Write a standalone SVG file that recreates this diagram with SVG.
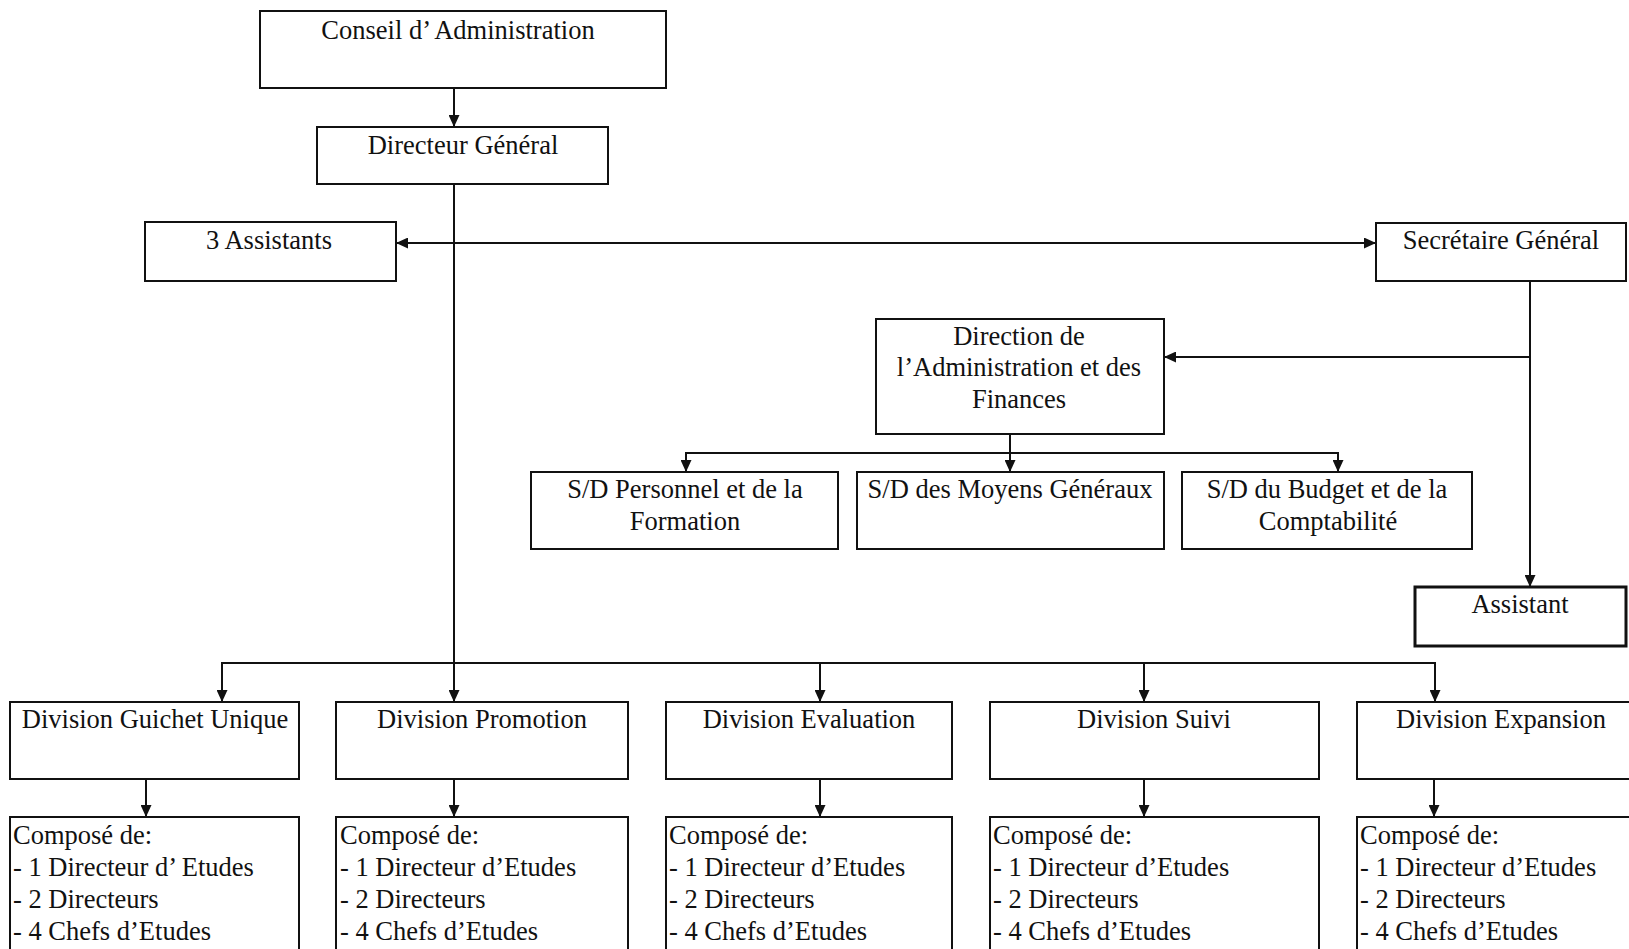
<svg xmlns="http://www.w3.org/2000/svg" width="1629" height="949" viewBox="0 0 1629 949">
<style>
.box{fill:#fff;stroke:#111;stroke-width:2}
.thick{stroke-width:3}
.t{font-family:"Liberation Serif","Times New Roman",serif;font-size:26.5px;fill:#111}
.c{text-anchor:middle}
.ln{fill:none;stroke:#111;stroke-width:2}
</style>
<defs>
<marker id="ah" markerUnits="userSpaceOnUse" markerWidth="12" markerHeight="11" viewBox="0 0 12 11" refX="12" refY="5.5" orient="auto-start-reverse">
<path d="M0,0 L12,5.5 L0,11 z" fill="#111"/>
</marker>
</defs>
<rect width="1629" height="949" fill="#fff"/>

<g id="connectors">
<line class="ln" x1="454" y1="88" x2="454" y2="127" marker-end="url(#ah)"/>
<line class="ln" x1="454" y1="184" x2="454" y2="702" marker-end="url(#ah)"/>
<line class="ln" x1="396" y1="243" x2="1376" y2="243" marker-start="url(#ah)" marker-end="url(#ah)"/>
<line class="ln" x1="1530" y1="281" x2="1530" y2="587" marker-end="url(#ah)"/>
<line class="ln" x1="1530" y1="357" x2="1164" y2="357" marker-end="url(#ah)"/>
<line class="ln" x1="1010" y1="434" x2="1010" y2="472" marker-end="url(#ah)"/>
<polyline class="ln" points="686,472 686,453 1338,453 1338,472" />
<line class="ln" x1="686" y1="460" x2="686" y2="472" marker-end="url(#ah)"/>
<line class="ln" x1="1338" y1="460" x2="1338" y2="472" marker-end="url(#ah)"/>
<polyline class="ln" points="222,690 222,663 1435,663 1435,690"/>
<line class="ln" x1="222" y1="670" x2="222" y2="702" marker-end="url(#ah)"/>
<line class="ln" x1="820" y1="663" x2="820" y2="702" marker-end="url(#ah)"/>
<line class="ln" x1="1144" y1="663" x2="1144" y2="702" marker-end="url(#ah)"/>
<line class="ln" x1="1435" y1="670" x2="1435" y2="702" marker-end="url(#ah)"/>
<line class="ln" x1="146" y1="779" x2="146" y2="817" marker-end="url(#ah)"/>
<line class="ln" x1="454" y1="779" x2="454" y2="817" marker-end="url(#ah)"/>
<line class="ln" x1="820" y1="779" x2="820" y2="817" marker-end="url(#ah)"/>
<line class="ln" x1="1144" y1="779" x2="1144" y2="817" marker-end="url(#ah)"/>
<line class="ln" x1="1434" y1="779" x2="1434" y2="817" marker-end="url(#ah)"/>
</g>

<g id="conseil"><rect class="box" x="260" y="11" width="406" height="77"/><text class="t c" x="458" y="39">Conseil d’ Administration</text></g>
<g id="dg"><rect class="box" x="317" y="127" width="291" height="57"/><text class="t c" x="463" y="154">Directeur Général</text></g>
<g id="assistants3"><rect class="box" x="145" y="222" width="251" height="59"/><text class="t c" x="269" y="249">3 Assistants</text></g>
<g id="sg"><rect class="box" x="1376" y="223" width="250" height="58"/><text class="t c" x="1501" y="249">Secrétaire Général</text></g>
<g id="daf"><rect class="box" x="876" y="319" width="288" height="115"/>
<text class="t c" x="1019" y="345">Direction de</text>
<text class="t c" x="1019" y="376">l’Administration et des</text>
<text class="t c" x="1019" y="408">Finances</text></g>
<g id="sd-personnel"><rect class="box" x="531" y="472" width="307" height="77"/>
<text class="t c" x="685" y="498">S/D Personnel et de la</text>
<text class="t c" x="685" y="530">Formation</text></g>
<g id="sd-moyens"><rect class="box" x="857" y="472" width="307" height="77"/>
<text class="t c" x="1010" y="498">S/D des Moyens Généraux</text></g>
<g id="sd-budget"><rect class="box" x="1182" y="472" width="290" height="77"/>
<text class="t c" x="1327" y="498">S/D du Budget et de la</text>
<text class="t c" x="1328" y="530">Comptabilité</text></g>
<g id="assistant"><rect class="box thick" x="1415" y="587" width="211" height="59"/><text class="t c" x="1520" y="613">Assistant</text></g>

<g id="div-guichet"><rect class="box" x="10" y="702" width="289" height="77"/><text class="t c" x="155" y="728">Division Guichet Unique</text></g>
<g id="div-promotion"><rect class="box" x="336" y="702" width="292" height="77"/><text class="t c" x="482" y="728">Division Promotion</text></g>
<g id="div-evaluation"><rect class="box" x="666" y="702" width="286" height="77"/><text class="t c" x="809" y="728">Division Evaluation</text></g>
<g id="div-suivi"><rect class="box" x="990" y="702" width="329" height="77"/><text class="t c" x="1154" y="728">Division Suivi</text></g>
<g id="div-expansion"><rect class="box" x="1357" y="702" width="290" height="77"/><text class="t c" x="1501" y="728">Division Expansion</text></g>

<g id="comp-guichet"><rect class="box" x="10" y="817" width="289" height="150"/>
<text class="t" x="13" y="844">Composé de:</text><text class="t" x="13" y="876">- 1 Directeur d’ Etudes</text><text class="t" x="13" y="908">- 2 Directeurs</text><text class="t" x="13" y="940">- 4 Chefs d’Etudes</text></g>
<g id="comp-promotion"><rect class="box" x="336" y="817" width="292" height="150"/>
<text class="t" x="340" y="844">Composé de:</text><text class="t" x="340" y="876">- 1 Directeur d’Etudes</text><text class="t" x="340" y="908">- 2 Directeurs</text><text class="t" x="340" y="940">- 4 Chefs d’Etudes</text></g>
<g id="comp-evaluation"><rect class="box" x="666" y="817" width="286" height="150"/>
<text class="t" x="669" y="844">Composé de:</text><text class="t" x="669" y="876">- 1 Directeur d’Etudes</text><text class="t" x="669" y="908">- 2 Directeurs</text><text class="t" x="669" y="940">- 4 Chefs d’Etudes</text></g>
<g id="comp-suivi"><rect class="box" x="990" y="817" width="329" height="150"/>
<text class="t" x="993" y="844">Composé de:</text><text class="t" x="993" y="876">- 1 Directeur d’Etudes</text><text class="t" x="993" y="908">- 2 Directeurs</text><text class="t" x="993" y="940">- 4 Chefs d’Etudes</text></g>
<g id="comp-expansion"><rect class="box" x="1357" y="817" width="290" height="150"/>
<text class="t" x="1360" y="844">Composé de:</text><text class="t" x="1360" y="876">- 1 Directeur d’Etudes</text><text class="t" x="1360" y="908">- 2 Directeurs</text><text class="t" x="1360" y="940">- 4 Chefs d’Etudes</text></g>
</svg>
